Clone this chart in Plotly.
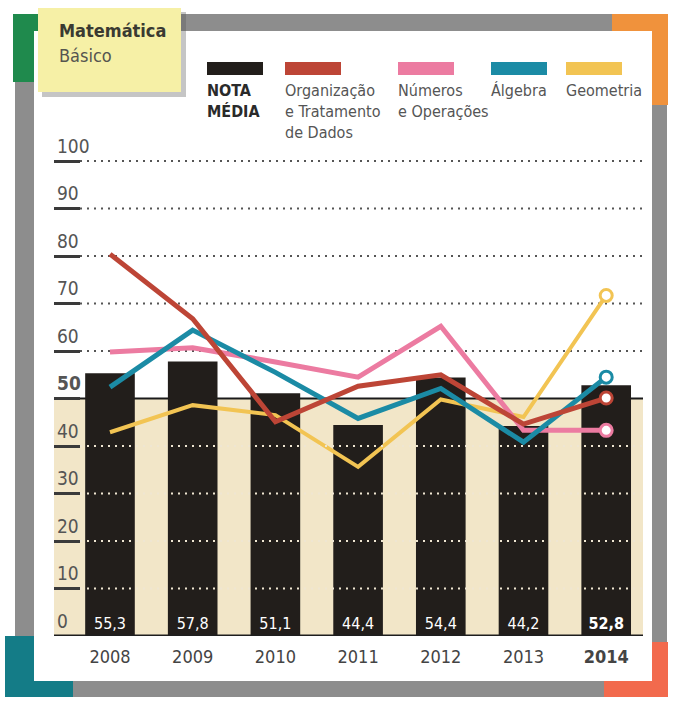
import plotly.graph_objects as go

# ---------------- data ----------------
years = ["2008", "2009", "2010", "2011", "2012", "2013", "2014"]
nota_media = [55.3, 57.8, 51.1, 44.4, 54.4, 44.2, 52.8]
organizacao = [80.4, 66.8, 45.1, 52.6, 55.0, 44.6, 50.1]
numeros = [59.8, 60.7, 57.7, 54.5, 65.2, 43.3, 43.3]
algebra = [52.4, 64.4, 55.5, 45.8, 52.1, 40.8, 54.5]
geometria = [42.9, 48.6, 46.5, 35.6, 49.8, 46.1, 71.7]
y_ticks = [0, 10, 20, 30, 40, 50, 60, 70, 80, 90, 100]
legend_labels = ["NOTA<br>MÉDIA", "Organização<br>e Tratamento<br>de Dados",
                 "Números<br>e Operações", "Álgebra", "Geometria"]
title_lines = ["Matemática", "Básico"]

# ---------------- style ----------------
FONT = "Liberation Sans Narrow, DejaVu Sans Condensed, Roboto, sans-serif"
C_BAR = "#221e1b"
C_ORG = "#bd4536"
C_NUM = "#ec7ba1"
C_ALG = "#1b8ba5"
C_GEO = "#f2c453"
C_BEIGE = "#f2e6c8"

W, H = 674, 708
ML, MR, MT, MB = 54, 31, 128, 72
PW, PH = W - ML - MR, H - MT - MB
Y_MAX = PH / 4.75


def px(p):
    return (p - ML) / PW


def py(p):
    return (H - MB - p) / PH


fig = go.Figure()

bar_text = [f"{v:.1f}".replace(".", ",") for v in nota_media]
bar_text[-1] = f"<b>{bar_text[-1]}</b>"
fig.add_trace(go.Bar(
    x=years, y=nota_media, width=0.6, marker=dict(color=C_BAR, line=dict(width=0)),
    text=bar_text, textposition="inside", insidetextanchor="start", textangle=0,
    textfont=dict(color="white", size=16, family=FONT), hoverinfo="skip",
))

series = [
    (geometria, C_GEO, 4),
    (numeros, C_NUM, 5),
    (algebra, C_ALG, 5),
    (organizacao, C_ORG, 5),
]
for vals, col, w in series:
    fig.add_trace(go.Scatter(
        x=years, y=vals, mode="lines", line=dict(color=col, width=w),
        hoverinfo="skip",
    ))
for vals, col, w in series:
    fig.add_trace(go.Scatter(
        x=[years[-1]], y=[vals[-1]], mode="markers",
        marker=dict(size=12, color="white", line=dict(color=col, width=3)),
        hoverinfo="skip",
    ))

shapes = []
# photo frame
shapes.append(dict(type="rect", xref="paper", yref="paper", x0=px(15), x1=px(667),
                   y0=py(14), y1=py(697), fillcolor="#8d8d8d", line=dict(width=0), layer="below"))
corners = [
    ((13, 14, 110, 82), "#1f8a4d"),
    ((612, 14, 668, 105), "#f0923c"),
    ((5, 636, 73, 697), "#147c87"),
    ((604, 642, 668, 697), "#f26a4d"),
]
for (x0, y0, x1, y1), col in corners:
    shapes.append(dict(type="rect", xref="paper", yref="paper", x0=px(x0), x1=px(x1),
                       y0=py(y0), y1=py(y1), fillcolor=col, line=dict(width=0), layer="below"))
shapes.append(dict(type="rect", xref="paper", yref="paper", x0=px(34), x1=px(652),
                   y0=py(31), y1=py(681), fillcolor="white", line=dict(width=0), layer="below"))
# beige band 0-50
shapes.append(dict(type="rect", xref="paper", yref="y", x0=0, x1=1, y0=0, y1=50,
                   fillcolor=C_BEIGE, line=dict(width=0), layer="below"))
# gridlines
for t in y_ticks:
    if t in (0, 50):
        continue
    if t > 50:
        shapes.append(dict(type="line", xref="paper", yref="y", x0=px(80), x1=1, y0=t, y1=t,
                           line=dict(color="#555555", width=2, dash="2px,5px"), layer="below"))
    else:
        shapes.append(dict(type="line", xref="paper", yref="y", x0=px(80), x1=1, y0=t, y1=t,
                           line=dict(color="#efe6d2", width=2, dash="2px,5px"), layer="above"))
# 50 line and baseline
shapes.append(dict(type="line", xref="paper", yref="y", x0=0, x1=1, y0=50, y1=50,
                   line=dict(color="#1a1a1a", width=2), layer="between"))
shapes.append(dict(type="line", xref="paper", yref="y", x0=0, x1=1, y0=0, y1=0,
                   line=dict(color="#1e1e1e", width=3), layer="above"))
# sticky note
shapes.append(dict(type="rect", xref="paper", yref="paper", x0=px(42), x1=px(186),
                   y0=py(12), y1=py(97), fillcolor="rgba(90,90,90,0.35)", line=dict(width=0), layer="below"))
shapes.append(dict(type="rect", xref="paper", yref="paper", x0=px(38), x1=px(181),
                   y0=py(8), y1=py(92), fillcolor="#f6f0a6", line=dict(width=0), layer="below"))

# legend swatches + labels
legend_colors = [C_BAR, C_ORG, C_NUM, C_ALG, C_GEO]
legend_left = [207, 285, 398, 491, 566]
annotations = []
for lab, col, xl in zip(legend_labels, legend_colors, legend_left):
    shapes.append(dict(type="rect", xref="paper", yref="paper", x0=px(xl), x1=px(xl + 56),
                       y0=py(62), y1=py(75), fillcolor=col, line=dict(width=0), layer="below"))
    bold = lab.startswith("NOTA")
    annotations.append(dict(
        xref="paper", yref="paper", x=px(xl - 2), y=py(79), xanchor="left", yanchor="top",
        text=f"<b>{lab}</b>" if bold else lab, showarrow=False, align="left",
        font=dict(family=FONT, size=16, color="#2a2a2a" if bold else "#555555"),
    ))
annotations.append(dict(xref="paper", yref="paper", x=px(57), y=py(31), xanchor="left",
                        yanchor="middle", text=f"<b>{title_lines[0]}</b>", showarrow=False,
                        font=dict(family=FONT, size=18, color="#3a3a32")))
annotations.append(dict(xref="paper", yref="paper", x=px(57), y=py(55), xanchor="left",
                        yanchor="middle", text=title_lines[1], showarrow=False,
                        font=dict(family=FONT, size=18, color="#555550")))

fig.update_layout(
    width=W, height=H, margin=dict(l=ML, r=MR, t=MT, b=MB),
    paper_bgcolor="white", plot_bgcolor="rgba(0,0,0,0)",
    showlegend=False, shapes=shapes, annotations=annotations,
    font=dict(family=FONT),
    xaxis=dict(type="category", range=[-0.677, 6.445], showgrid=False, zeroline=False,
               showline=False, ticks="",
               tickvals=years, ticktext=years[:-1] + [f"<b>{years[-1]}</b>"],
               tickfont=dict(family=FONT, size=18, color="#444444"), ticklabelstandoff=8),
    yaxis=dict(range=[0, Y_MAX], showgrid=False, zeroline=False, showline=False,
               tickvals=y_ticks,
               ticktext=[f"<b>{t}</b>" if t == 50 else str(t) for t in y_ticks],
               ticks="inside", ticklen=26, tickwidth=3, tickcolor="#3a3a3a",
               ticklabelposition="inside top",
               tickfont=dict(family=FONT, size=19, color="#555555")),
)

fig.write_html("out.html")
